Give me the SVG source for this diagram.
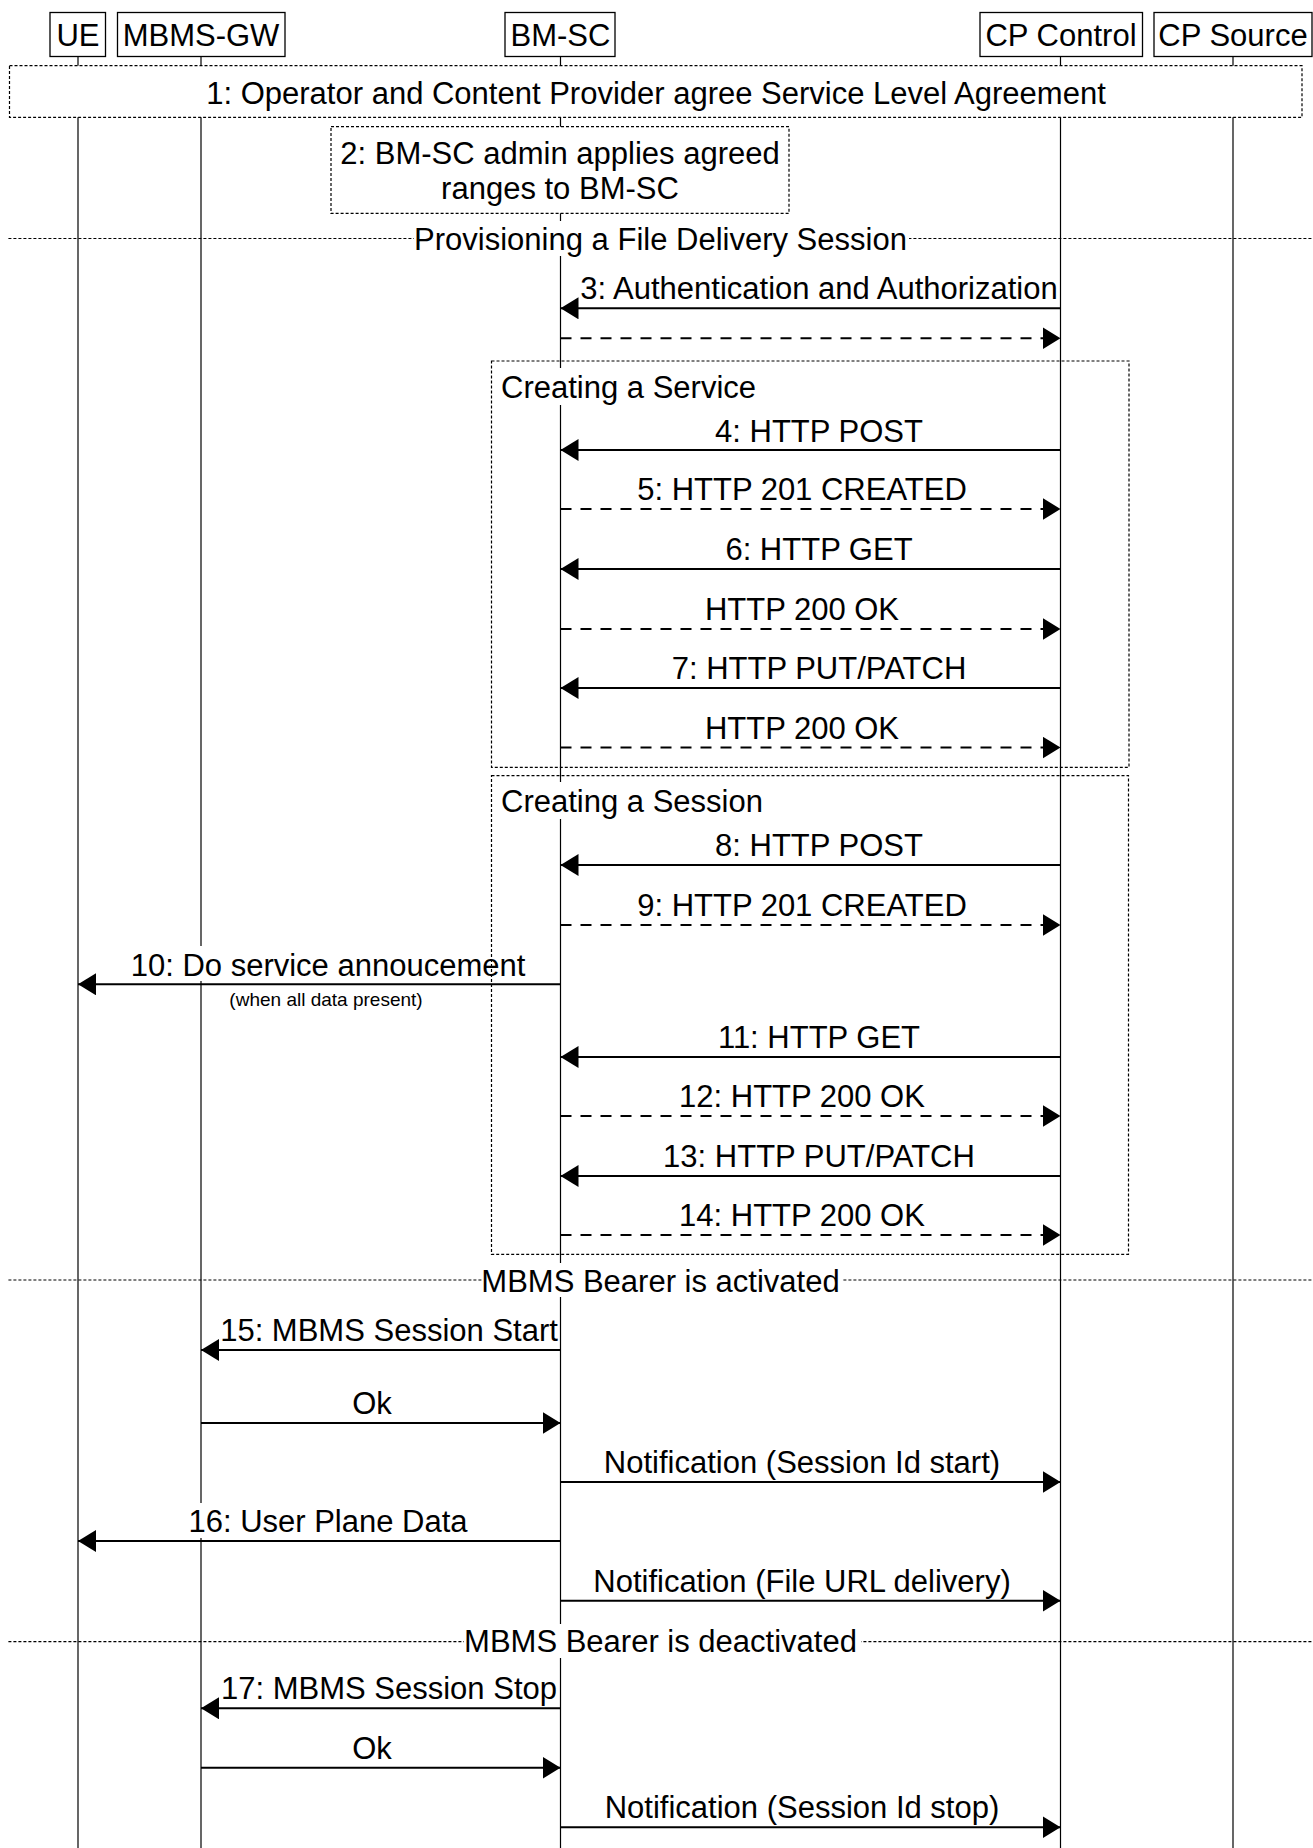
<svg xmlns="http://www.w3.org/2000/svg" width="1313" height="1848" viewBox="0 0 1313 1848">
<defs>
<style>
text{font-family:"Liberation Sans",Arial,Helvetica,sans-serif;font-size:31px;fill:#000}
.c{text-anchor:middle}
.small{font-size:19px}
.life{stroke:#000;stroke-width:1.2;fill:none}
.hbox{fill:#fff;stroke:#000;stroke-width:1.3}
.note{fill:#fff;stroke:#000;stroke-width:1.2;stroke-dasharray:3 2}
.frame{fill:none;stroke:#000;stroke-width:1.2;stroke-dasharray:3 2}
.div{stroke:#000;stroke-width:1.2;stroke-dasharray:3 2}
.msg{stroke:#000;stroke-width:2;fill:none}
.ret{stroke:#000;stroke-width:2;fill:none;stroke-dasharray:11 9}
.bg{fill:#fff}
</style>
<marker id="ah" markerUnits="userSpaceOnUse" markerWidth="19" markerHeight="23" refX="18" refY="11" orient="auto" viewBox="0 0 19 23">
<path d="M0,0 L18,11 L0,22 Z" fill="#000"/>
</marker>
</defs>
<rect width="1313" height="1848" fill="#fff"/>

<g id="lifelines">
<line class="life" x1="78" y1="56" x2="78" y2="1848"/>
<line class="life" x1="201" y1="56" x2="201" y2="1848"/>
<line class="life" x1="560.5" y1="56" x2="560.5" y2="1848"/>
<line class="life" x1="1060.5" y1="56" x2="1060.5" y2="1848"/>
<line class="life" x1="1233" y1="56" x2="1233" y2="1848"/>
</g>

<g id="UE"><rect class="hbox" x="50" y="12.5" width="55.5" height="44"/><text class="c" x="78" y="45.7">UE</text></g>
<g id="MBMS-GW"><rect class="hbox" x="117.5" y="12.5" width="167.5" height="44"/><text class="c" x="201" y="45.7">MBMS-GW</text></g>
<g id="BM-SC"><rect class="hbox" x="505" y="12.5" width="110" height="44"/><text class="c" x="560.5" y="45.7">BM-SC</text></g>
<g id="CP-Control"><rect class="hbox" x="980" y="12.5" width="162.5" height="44"/><text class="c" x="1061" y="45.7">CP Control</text></g>
<g id="CP-Source"><rect class="hbox" x="1154" y="12.5" width="158" height="44"/><text class="c" x="1233" y="45.7">CP Source</text></g>

<g id="note1"><rect class="note" x="9.5" y="65.7" width="1292.5" height="51.6"/><text class="c" x="656" y="103.5">1: Operator and Content Provider agree Service Level Agreement</text></g>
<g id="note2"><rect class="note" x="331" y="126.7" width="458" height="86.6"/><text class="c" x="560" y="164">2: BM-SC admin applies agreed</text><text class="c" x="560" y="199">ranges to BM-SC</text></g>

<g id="divider1"><line class="div" x1="8.4" y1="238.5" x2="1313" y2="238.5"/><rect class="bg" x="414" y="221" width="495" height="35"/><text class="c" x="660.5" y="250">Provisioning a File Delivery Session</text></g>
<g id="divider2"><line class="div" x1="8.4" y1="1280" x2="1313" y2="1280"/><rect class="bg" x="482" y="1263" width="360" height="34"/><text class="c" x="660.5" y="1292">MBMS Bearer is activated</text></g>
<g id="divider3"><line class="div" x1="8.4" y1="1641.7" x2="1313" y2="1641.7"/><rect class="bg" x="464" y="1624" width="397" height="34"/><text class="c" x="660.5" y="1652">MBMS Bearer is deactivated</text></g>

<g id="connectors">
<line class="msg" x1="1060.5" y1="308.3" x2="560.5" y2="308.3" marker-end="url(#ah)"/>
<line class="ret" x1="560.5" y1="338.3" x2="1060.5" y2="338.3" marker-end="url(#ah)"/>
<line class="msg" x1="1060.5" y1="450" x2="560.5" y2="450" marker-end="url(#ah)"/>
<line class="ret" x1="560.5" y1="509" x2="1060.5" y2="509" marker-end="url(#ah)"/>
<line class="msg" x1="1060.5" y1="569" x2="560.5" y2="569" marker-end="url(#ah)"/>
<line class="ret" x1="560.5" y1="629" x2="1060.5" y2="629" marker-end="url(#ah)"/>
<line class="msg" x1="1060.5" y1="688" x2="560.5" y2="688" marker-end="url(#ah)"/>
<line class="ret" x1="560.5" y1="747.5" x2="1060.5" y2="747.5" marker-end="url(#ah)"/>
<line class="msg" x1="1060.5" y1="865" x2="560.5" y2="865" marker-end="url(#ah)"/>
<line class="ret" x1="560.5" y1="925" x2="1060.5" y2="925" marker-end="url(#ah)"/>
<line class="msg" x1="560.5" y1="984.3" x2="78" y2="984.3" marker-end="url(#ah)"/>
<line class="msg" x1="1060.5" y1="1057" x2="560.5" y2="1057" marker-end="url(#ah)"/>
<line class="ret" x1="560.5" y1="1116" x2="1060.5" y2="1116" marker-end="url(#ah)"/>
<line class="msg" x1="1060.5" y1="1176" x2="560.5" y2="1176" marker-end="url(#ah)"/>
<line class="ret" x1="560.5" y1="1235" x2="1060.5" y2="1235" marker-end="url(#ah)"/>
<line class="msg" x1="560.5" y1="1350" x2="201" y2="1350" marker-end="url(#ah)"/>
<line class="msg" x1="201" y1="1423" x2="560.5" y2="1423" marker-end="url(#ah)"/>
<line class="msg" x1="560.5" y1="1482" x2="1060.5" y2="1482" marker-end="url(#ah)"/>
<line class="msg" x1="560.5" y1="1541" x2="78" y2="1541" marker-end="url(#ah)"/>
<line class="msg" x1="560.5" y1="1600.7" x2="1060.5" y2="1600.7" marker-end="url(#ah)"/>
<line class="msg" x1="560.5" y1="1708.3" x2="201" y2="1708.3" marker-end="url(#ah)"/>
<line class="msg" x1="201" y1="1767.7" x2="560.5" y2="1767.7" marker-end="url(#ah)"/>
<line class="msg" x1="560.5" y1="1827.3" x2="1060.5" y2="1827.3" marker-end="url(#ah)"/>
</g>

<g id="labels">
<text class="c" x="819" y="298.5">3: Authentication and Authorization</text>
<text class="c" x="819" y="441.5">4: HTTP POST</text>
<text class="c" x="802" y="500">5: HTTP 201 CREATED</text>
<text class="c" x="819" y="560">6: HTTP GET</text>
<text class="c" x="802" y="620">HTTP 200 OK</text>
<text class="c" x="819" y="679">7: HTTP PUT/PATCH</text>
<text class="c" x="802" y="738.5">HTTP 200 OK</text>
<text class="c" x="819" y="856">8: HTTP POST</text>
<text class="c" x="802" y="916">9: HTTP 201 CREATED</text>
<rect class="bg" x="128" y="946" width="398" height="35"/>
<text class="c" x="328" y="976">10: Do service annoucement</text>
<text class="c small" x="326" y="1006">(when all data present)</text>
<text class="c" x="819" y="1048">11: HTTP GET</text>
<text class="c" x="802" y="1107">12: HTTP 200 OK</text>
<text class="c" x="819" y="1167">13: HTTP PUT/PATCH</text>
<text class="c" x="802" y="1226">14: HTTP 200 OK</text>
<text class="c" x="389" y="1341">15: MBMS Session Start</text>
<text class="c" x="372" y="1414">Ok</text>
<text class="c" x="802" y="1473">Notification (Session Id start)</text>
<rect class="bg" x="186" y="1503" width="282" height="35"/>
<text class="c" x="328" y="1532">16: User Plane Data</text>
<text class="c" x="802" y="1591.7">Notification (File URL delivery)</text>
<text class="c" x="389" y="1699.3">17: MBMS Session Stop</text>
<text class="c" x="372" y="1758.7">Ok</text>
<text class="c" x="802" y="1818.3">Notification (Session Id stop)</text>
</g>

<g id="frame-service"><rect class="frame" x="491.5" y="361" width="637.5" height="406.3"/><rect class="bg" x="499" y="368" width="256" height="37"/><text x="501" y="398">Creating a Service</text></g>
<g id="frame-session"><rect class="frame" x="491.5" y="775.6" width="637" height="478.7"/><rect class="bg" x="499" y="782" width="268" height="37"/><text x="501" y="812">Creating a Session</text></g>
</svg>
